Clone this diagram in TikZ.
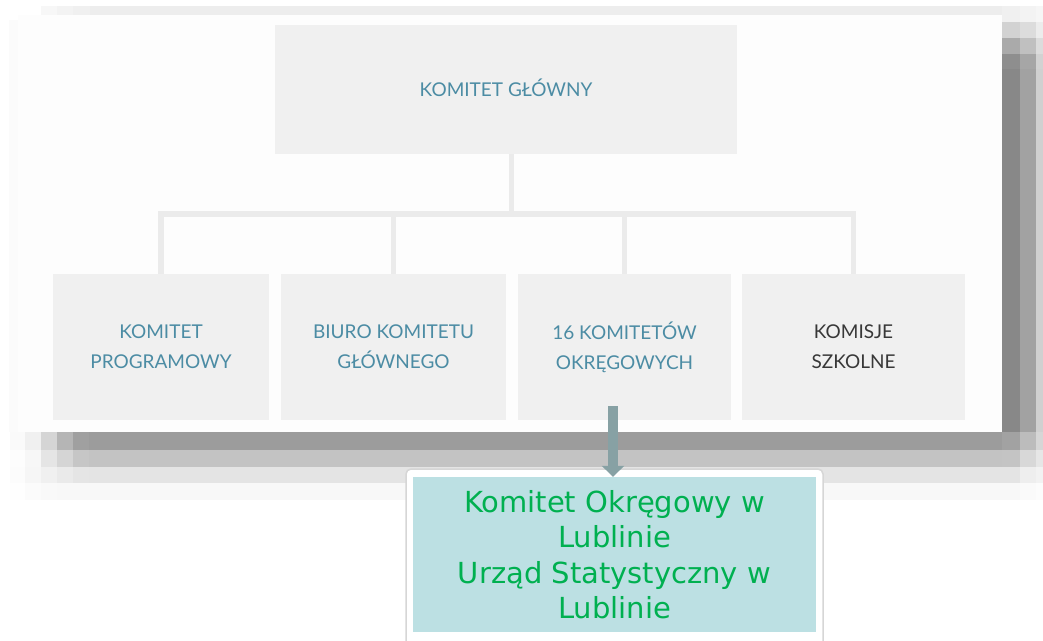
\documentclass[tikz,border=0pt]{standalone}
\usepackage{fontspec}
\setmainfont{Lato}
\newfontfamily\dejavu{DejaVu Sans}
\usetikzlibrary{arrows.meta}
\definecolor{boxgray}{HTML}{F0F0F0}
\definecolor{linegray}{HTML}{EBEBEB}
\definecolor{mainwhite}{HTML}{FDFDFD}
\definecolor{orgteal}{HTML}{4C8CA4}
\definecolor{orgdark}{HTML}{383838}
\definecolor{lubfill}{HTML}{BCE0E3}
\definecolor{lubtext}{HTML}{00B050}
\definecolor{arrowgray}{HTML}{87A1A4}
\definecolor{framegray}{HTML}{D6D6D6}

\begin{document}
\begin{tikzpicture}[x=1pt,y=-1pt,
	orgbox/.style={fill=boxgray,inner sep=0pt,align=center,text=orgteal,font=\fontsize{19}{30}\selectfont},
	tree/.style={linegray,line width=5.5pt},
	strzalka/.style={arrowgray,line width=10pt,-{Triangle[width=22pt,length=11pt]}},
	lubbox/.style={fill=lubfill,text=lubtext,inner sep=0pt,align=center,minimum width=403pt,minimum height=155pt,font=\dejavu\fontsize{29}{35.5}\selectfont}]
	\useasboundingbox (0,0) rectangle (1043,640);
	\fill[white] (0,0) rectangle (1043,640);

	% screenshot shadow
	\foreach \xa/\xb/\g in {41/57/247,57/73/243,73/90/240,90/1002/237}{
		\definecolor{band}{RGB}{\g,\g,\g}
		\fill[band] (\xa,6) rectangle (\xb,15);
	}
	\fill[black!1.5] (9,20) rectangle (18,432);
	\foreach \xa/\xb/\ga/\gb/\gc/\gd/\ge in {1002/1020/240/210/170/142/136,1020/1036/243/220/192/166/162,1036/1043/246/236/220/210/208}{
		\definecolor{band}{RGB}{\ga,\ga,\ga}\fill[band] (\xa,6) rectangle (\xb,22);
		\definecolor{band}{RGB}{\gb,\gb,\gb}\fill[band] (\xa,22) rectangle (\xb,38);
		\definecolor{band}{RGB}{\gc,\gc,\gc}\fill[band] (\xa,38) rectangle (\xb,54);
		\definecolor{band}{RGB}{\gd,\gd,\gd}\fill[band] (\xa,54) rectangle (\xb,69);
		\definecolor{band}{RGB}{\ge,\ge,\ge}\fill[band] (\xa,69) rectangle (\xb,432);
	}
	\foreach \xa/\xb/\ga/\gb/\gc/\gd in {10/25/250/253/252/254,25/41/240/247/246/251,41/57/213/229/240/249,57/73/181/213/234/248,73/89/160/198/229/248,89/1002/156/195/228/248,1002/1020/162/196/228/248,1020/1036/188/216/238/250,1036/1043/214/230/242/252}{
		\definecolor{band}{RGB}{\ga,\ga,\ga}\fill[band] (\xa,432) rectangle (\xb,450);
		\definecolor{band}{RGB}{\gb,\gb,\gb}\fill[band] (\xa,450) rectangle (\xb,467);
		\definecolor{band}{RGB}{\gc,\gc,\gc}\fill[band] (\xa,467) rectangle (\xb,483);
		\definecolor{band}{RGB}{\gd,\gd,\gd}\fill[band] (\xa,483) rectangle (\xb,500);
	}
	\fill[mainwhite] (18,15) rectangle (1002,432);

	% chart
	\node[orgbox,minimum width=462pt,minimum height=129pt,text height=14pt,text depth=0pt] (glowny) at (506,89.5) {KOMITET GŁÓWNY};
	\node[orgbox,minimum width=216pt,minimum height=146pt] (programowy) at (161,347) {KOMITET\\PROGRAMOWY};
	\node[orgbox,minimum width=225pt,minimum height=146pt] (biuro) at (393.5,347) {BIURO KOMITETU\\GŁÓWNEGO};
	\node[orgbox,minimum width=213pt,minimum height=146pt] (okregowe) at (624.5,347) {16 KOMITETÓW\\OKRĘGOWYCH};
	\node[orgbox,minimum width=223pt,minimum height=146pt,text=orgdark] (szkolne) at (853.5,347) {KOMISJE\\SZKOLNE};

	\coordinate (bus) at (511.5,214);
	\draw[tree] (glowny.south -| bus) -- (bus);
	\draw[tree] (programowy.north) -- (programowy.north |- bus) -- (szkolne.north |- bus) -- (szkolne.north);
	\draw[tree] (biuro.north |- bus) -- (biuro.north);
	\draw[tree] (okregowe.north |- bus) -- (okregowe.north);

	% Lublin
	\draw[framegray,fill=white,rounded corners=5pt,line width=1.5pt] (406,469) rectangle (823,652);
	\node[lubbox] (lublin) at (614.5,554.5) {Komitet Okręgowy w\\Lublinie\\Urząd Statystyczny w\\Lublinie};

	\coordinate (strzalkaStart) at (613,406);
	\draw[strzalka] (strzalkaStart) -- (strzalkaStart |- lublin.north);
\end{tikzpicture}
\end{document}
